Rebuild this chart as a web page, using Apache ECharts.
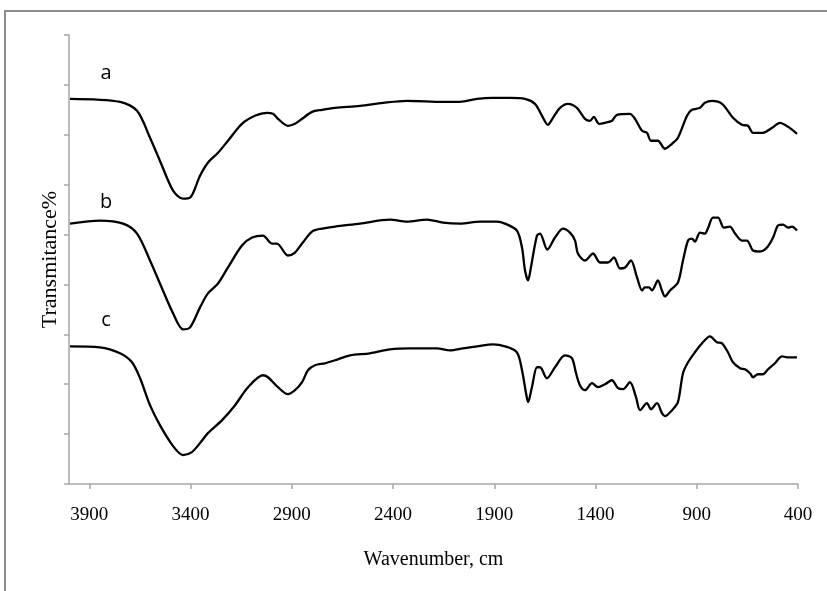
<!DOCTYPE html>
<html>
<head>
<meta charset="utf-8">
<script src="https://cdn.jsdelivr.net/npm/echarts@6/dist/echarts.min.js"></script>
<style>
  html, body { margin: 0; padding: 0; background: #fff; }
  #chart { width: 827px; height: 591px; }
</style>
</head>
<body>
<div id="chart"></div>
<script>
// 波数刻度 (cm-1)，反向坐标
const xTicks = [3900, 3400, 2900, 2400, 1900, 1400, 900, 400];

// 三条红外谱线 [波数, 透过率(任意单位)]
const curveA = [
  [3995, 386], [3748, 383], [3664, 374], [3600, 347], [3551, 324], [3486, 294],
  [3437, 286], [3402, 287], [3353, 309], [3314, 322], [3264, 332], [3215, 344],
  [3146, 361], [3082, 369], [3022, 372], [2993, 371], [2968, 366], [2919, 359],
  [2884, 361], [2849, 366], [2800, 373], [2751, 375], [2686, 377], [2563, 379],
  [2449, 382], [2331, 384], [2153, 383], [2069, 383], [1985, 386], [1906, 387],
  [1822, 387], [1748, 386], [1699, 381], [1664, 369], [1635, 360], [1610, 367],
  [1575, 377], [1536, 381], [1492, 377], [1452, 366], [1427, 364], [1408, 368],
  [1383, 361], [1353, 362], [1319, 364], [1294, 370], [1230, 371], [1205, 366],
  [1170, 354], [1146, 352], [1126, 344], [1092, 344], [1057, 336], [1022, 341],
  [993, 347], [948, 369], [924, 375], [884, 377], [860, 382], [825, 384],
  [775, 381], [721, 367], [677, 360], [647, 359], [622, 352], [573, 352],
  [528, 357], [489, 362], [449, 358], [405, 351]
];
const curveB = [
  [3995, 261], [3847, 264], [3733, 261], [3664, 251], [3600, 224], [3551, 201],
  [3486, 171], [3437, 155], [3402, 157], [3353, 177], [3314, 191], [3264, 201],
  [3215, 217], [3146, 239], [3096, 247], [3042, 249], [2998, 241], [2973, 241],
  [2919, 229], [2884, 232], [2849, 241], [2800, 253], [2751, 256], [2686, 258],
  [2563, 261], [2415, 265], [2331, 263], [2232, 265], [2153, 262], [2069, 261],
  [1970, 263], [1887, 263], [1847, 261], [1788, 254], [1763, 237], [1748, 214],
  [1733, 204], [1719, 217], [1689, 249], [1674, 251], [1638, 235], [1600, 247],
  [1561, 256], [1526, 252], [1501, 244], [1487, 231], [1452, 224], [1412, 231],
  [1378, 222], [1338, 222], [1309, 227], [1279, 216], [1254, 217], [1225, 224],
  [1195, 207], [1170, 194], [1156, 197], [1136, 197], [1121, 194], [1092, 204],
  [1072, 194], [1057, 188], [1032, 194], [993, 202], [968, 224], [943, 244],
  [924, 246], [909, 243], [884, 252], [860, 251], [845, 256], [820, 267],
  [795, 267], [766, 257], [736, 258], [711, 251], [677, 244], [652, 244],
  [622, 234], [588, 233], [553, 237], [523, 247], [499, 259], [474, 260],
  [449, 257], [430, 258], [405, 254]
];
const curveC = [
  [3995, 138], [3847, 137], [3748, 131], [3689, 122], [3649, 106], [3600, 79],
  [3551, 59], [3486, 38], [3437, 29], [3393, 32], [3353, 41], [3314, 51],
  [3244, 64], [3180, 79], [3116, 97], [3042, 109], [3017, 107], [2968, 97],
  [2919, 90], [2884, 94], [2849, 102], [2820, 114], [2785, 119], [2736, 121],
  [2686, 124], [2612, 129], [2514, 131], [2415, 135], [2316, 136], [2183, 136],
  [2119, 134], [2054, 136], [1985, 138], [1906, 140], [1847, 138], [1788, 132],
  [1763, 114], [1743, 91], [1733, 82], [1714, 97], [1689, 117], [1674, 117],
  [1640, 106], [1600, 117], [1551, 129], [1516, 126], [1496, 111], [1477, 99],
  [1452, 94], [1417, 101], [1388, 97], [1353, 100], [1319, 104], [1289, 96],
  [1264, 95], [1230, 102], [1200, 87], [1180, 74], [1146, 81], [1126, 75],
  [1096, 81], [1072, 71], [1057, 68], [1022, 74], [993, 82], [968, 111],
  [943, 122], [909, 132], [874, 141], [835, 148], [800, 142], [775, 141],
  [746, 132], [721, 122], [686, 116], [662, 115], [637, 111], [622, 107],
  [598, 110], [573, 110], [548, 115], [514, 121], [479, 128], [454, 127],
  [405, 127]
];
const curveNames = ['a', 'b', 'c'];

let myChart = echarts.init(document.getElementById('chart'));

const axisGrey = '#a6a6a6';
const lineStyle = { color: '#000', width: 2.3 };
const letterFont = '20px "Open Sans"';

function makeSeries(name, data) {
  return {
    name: name,
    type: 'line',
    data: data,
    showSymbol: false,
    smooth: 0.3,
    lineStyle: lineStyle,
    animation: false
  };
}

let option = {
  backgroundColor: '#fff',
  grid: { left: 69, right: 29, top: 35, bottom: 107 },
  xAxis: {
    type: 'value',
    inverse: true,
    min: 400,
    max: 4000,
    interval: 500,
    name: 'Wavenumber, cm',
    nameLocation: 'middle',
    nameGap: 66,
    nameTextStyle: { fontFamily: 'Liberation Serif', fontSize: 20, color: '#000' },
    axisLine: { lineStyle: { color: axisGrey, width: 1.5 } },
    axisTick: { length: 5, lineStyle: { color: axisGrey, width: 1.5 } },
    axisLabel: {
      showMaxLabel: false,
      margin: 22,
      fontFamily: 'Liberation Serif',
      fontSize: 19,
      color: '#000',
      formatter: v => (xTicks.indexOf(v) >= 0 ? String(v) : '')
    },
    splitLine: { show: false }
  },
  yAxis: {
    type: 'value',
    min: 0,
    max: 450,
    interval: 50,
    name: 'Transmitance%',
    nameLocation: 'middle',
    nameGap: 8,
    nameRotate: 90,
    nameTextStyle: { fontFamily: 'Liberation Serif', fontSize: 22, color: '#000' },
    axisLine: { show: true, lineStyle: { color: axisGrey, width: 1.5 } },
    axisTick: { show: true, length: 5, lineStyle: { color: axisGrey, width: 1.5 } },
    axisLabel: { show: false },
    splitLine: { show: false }
  },
  series: [
    makeSeries(curveNames[0], curveA),
    makeSeries(curveNames[1], curveB),
    makeSeries(curveNames[2], curveC)
  ],
  graphic: [
    {
      type: 'rect',
      shape: { x: 5, y: 11, width: 900, height: 700 },
      style: { fill: 'none', stroke: '#8c8c8c', lineWidth: 2 },
      silent: true
    },
    { type: 'text', x: 106, y: 73, style: { text: curveNames[0], font: letterFont, fill: '#000', align: 'center', verticalAlign: 'middle' } },
    { type: 'text', x: 106, y: 202, style: { text: curveNames[1], font: letterFont, fill: '#000', align: 'center', verticalAlign: 'middle' } },
    { type: 'text', x: 106, y: 320, style: { text: curveNames[2], font: letterFont, fill: '#000', align: 'center', verticalAlign: 'middle' } }
  ]
};

myChart.setOption(option);
</script>
</body>
</html>
